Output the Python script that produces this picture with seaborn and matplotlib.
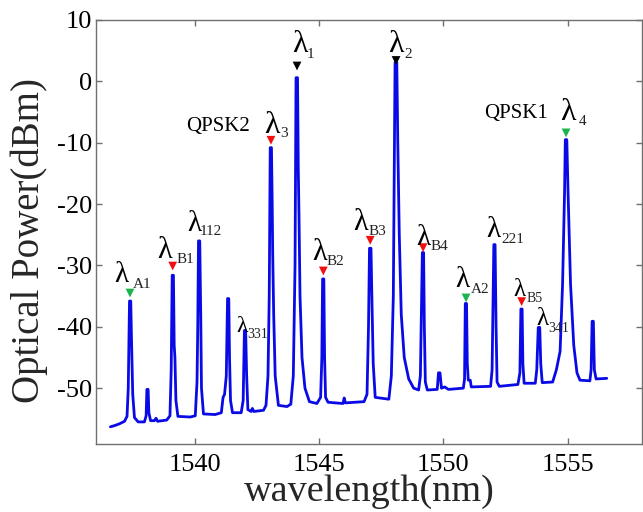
import matplotlib
matplotlib.use("Agg")
import matplotlib.pyplot as plt
import seaborn as sns
import pandas as pd

# Optical spectrum trace: wavelength (nm) and power (dBm)
wavelength = [
    1536.58, 1536.75, 1536.95, 1537.15, 1537.25, 1537.30, 1537.33, 1537.35, 1537.40, 1537.43,
    1537.48, 1537.55, 1537.70, 1537.95, 1538.02, 1538.05, 1538.10, 1538.13, 1538.20, 1538.35,
    1538.42, 1538.48, 1538.85, 1538.98, 1539.03, 1539.07, 1539.12, 1539.15, 1539.18, 1539.22,
    1539.30, 1539.80, 1540.00, 1540.07, 1540.10, 1540.13, 1540.18, 1540.22, 1540.25, 1540.33,
    1540.80, 1541.05, 1541.12, 1541.18, 1541.25, 1541.30, 1541.35, 1541.38, 1541.42, 1541.50,
    1541.85, 1541.93, 1541.98, 1542.03, 1542.07, 1542.12, 1542.25, 1542.30, 1542.36, 1542.75,
    1542.85, 1542.93, 1542.98, 1543.02, 1543.07, 1543.10, 1543.12, 1543.16, 1543.22, 1543.35,
    1543.70, 1543.85, 1543.95, 1544.02, 1544.06, 1544.12, 1544.15, 1544.18, 1544.22, 1544.30,
    1544.42, 1544.60, 1544.90, 1545.05, 1545.10, 1545.13, 1545.18, 1545.21, 1545.25, 1545.35,
    1545.95, 1546.00, 1546.05, 1546.80, 1546.92, 1546.98, 1547.02, 1547.08, 1547.12, 1547.17,
    1547.25, 1547.80, 1547.90, 1547.98, 1548.05, 1548.12, 1548.16, 1548.22, 1548.30, 1548.42,
    1548.60, 1548.80, 1549.00, 1549.07, 1549.12, 1549.15, 1549.20, 1549.23, 1549.27, 1549.35,
    1549.75, 1549.80, 1549.86, 1549.92, 1550.05, 1550.20, 1550.80, 1550.85, 1550.88, 1550.93,
    1550.96, 1551.00, 1551.08, 1551.12, 1551.90, 1551.96, 1552.00, 1552.03, 1552.08, 1552.12,
    1552.16, 1552.25, 1553.00, 1553.08, 1553.12, 1553.17, 1553.20, 1553.25, 1553.70, 1553.76,
    1553.82, 1553.88, 1553.92, 1553.98, 1554.40, 1554.55, 1554.70, 1554.80, 1554.88, 1554.91,
    1554.97, 1555.02, 1555.12, 1555.25, 1555.38, 1555.50, 1555.90, 1555.95, 1555.99, 1556.04,
    1556.08, 1556.15, 1556.58,
]
power = [
    -56.3, -56.1, -55.8, -55.4, -54.6, -50.0, -42.0, -35.8, -35.8, -42.0,
    -51.0, -54.8, -55.5, -55.5, -54.5, -50.2, -50.2, -54.0, -55.3, -55.3,
    -54.9, -55.4, -55.2, -54.5, -47.0, -31.6, -31.6, -43.0, -45.0, -52.0,
    -54.6, -54.7, -54.5, -49.0, -40.0, -26.0, -26.0, -38.0, -50.0, -54.2,
    -54.3, -54.0, -51.5, -51.0, -48.0, -35.4, -35.4, -45.0, -52.0, -54.0,
    -54.0, -52.0, -40.6, -40.6, -48.0, -53.5, -53.8, -53.3, -53.8, -53.6,
    -52.8, -48.0, -35.0, -10.8, -10.8, -20.0, -28.0, -38.0, -48.0, -52.8,
    -53.0, -52.6, -48.0, -30.0, 0.6, 0.6, -14.0, -22.0, -35.0, -45.0,
    -50.0, -52.2, -52.5, -51.5, -45.0, -32.2, -32.2, -45.0, -51.5, -52.3,
    -52.5, -51.6, -52.4, -52.2, -51.0, -40.0, -27.2, -27.2, -36.0, -46.0,
    -51.5, -51.8, -48.0, -35.0, 3.1, 3.1, -10.0, -25.0, -38.0, -45.0,
    -48.5, -50.0, -50.3, -48.0, -35.0, -27.9, -27.9, -40.0, -49.0, -50.3,
    -50.2, -47.5, -47.5, -50.0, -49.8, -50.2, -50.0, -48.5, -36.2, -36.2,
    -46.0, -48.7, -48.7, -49.8, -49.7, -47.0, -35.0, -26.6, -26.6, -40.0,
    -49.0, -49.7, -49.4, -47.5, -37.1, -37.1, -46.0, -49.2, -49.2, -47.0,
    -40.1, -40.1, -46.0, -49.1, -49.0, -47.0, -44.0, -33.0, -18.0, -9.5,
    -9.5, -18.0, -33.0, -43.0, -47.5, -48.7, -48.8, -47.0, -39.1, -39.1,
    -47.0, -48.5, -48.4,
]

# Channel markers above the peaks
marker_wl = [1537.37, 1539.09, 1543.05, 1544.10, 1545.16, 1547.05, 1548.09, 1549.18, 1550.91, 1553.15, 1554.94]
marker_db = [-34.5, -30.1, -9.6, 2.5, -30.9, -25.9, 3.4, -27.1, -35.3, -35.9, -8.4]
marker_kind = ["A", "B", "B", "P", "B", "B", "P", "B", "A", "B", "A"]

x_ticks = [1540, 1545, 1550, 1555]
y_ticks = [10, 0, -10, -20, -30, -40, -50]

sns.set_theme(style="ticks")
plt.rcParams["font.family"] = ["Liberation Serif", "DejaVu Serif"]
plt.rcParams["axes.unicode_minus"] = False

fig = plt.figure(figsize=(6.43, 5.12), dpi=100)
ax = fig.add_axes([96 / 643, 1 - 444 / 512, (642 - 96) / 643, (444 - 20) / 512])

spectrum = pd.DataFrame({"wavelength": wavelength, "power": power})
sns.lineplot(data=spectrum, x="wavelength", y="power", ax=ax, sort=False,
             estimator=None, color="#0a0ae6", linewidth=2.0)

markers = pd.DataFrame({"wl": marker_wl, "db": marker_db, "kind": marker_kind})
palette = {"A": "#1db34f", "B": "#f01010", "P": "#000000"}
sns.scatterplot(data=markers, x="wl", y="db", hue="kind", palette=palette,
                marker="v", s=40, linewidth=0, ax=ax, legend=False, zorder=5)

ax.set_xlim(1536, 1558)
ax.set_ylim(-59.1, 10)
ax.set_xticks(x_ticks)
ax.set_yticks(y_ticks)

for side in ["left", "right", "top", "bottom"]:
    ax.spines[side].set_visible(True)
    ax.spines[side].set_color("#707070")
    ax.spines[side].set_linewidth(1.0)
ax.tick_params(direction="in", top=True, right=True, length=4, width=1,
               color="#707070", labelsize=19, labelcolor="black")
ax.tick_params(axis="x", pad=7)
ax.tick_params(axis="y", pad=3)

ax.set_xlabel("wavelength(nm)", fontsize=27.5)
ax.set_ylabel("Optical Power(dBm)", fontsize=28)
ax.xaxis.set_label_coords(0.5, -0.072)
ax.yaxis.set_label_coords(-0.088, 0.481)

# Peak labels: (lambda x, lambda y, lambda size, subscript, sub x, sub y, sub size)
labels = [
    (1536.74, -32.7, 21, "A1", 1537.47, -33.7, 11),
    (1538.47, -28.8, 22, "B1", 1539.24, -29.6, 11),
    (1539.68, -24.4, 21, "112", 1540.16, -25.05, 11),
    (1541.65, -40.9, 17, "331", 1542.09, -41.85, 10),
    (1542.77, -8.42, 23, "3", 1543.42, -9.07, 11),
    (1543.90, 4.78, 23, "1", 1544.50, 3.81, 11),
    (1547.76, 4.78, 23, "2", 1548.44, 3.81, 11),
    (1544.70, -29.1, 22, "B2", 1545.27, -29.9, 11),
    (1546.35, -24.2, 22, "B3", 1547.00, -25.05, 11),
    (1548.89, -26.7, 21, "B4", 1549.49, -27.5, 11),
    (1551.74, -25.4, 21, "221", 1552.34, -26.4, 11),
    (1550.49, -33.5, 21, "A2", 1551.10, -34.5, 11),
    (1552.83, -35.0, 18, "B5", 1553.35, -36.0, 10),
    (1553.75, -39.7, 18, "341", 1554.23, -40.9, 10),
    (1554.72, -6.3, 23, "4", 1555.44, -7.12, 11),
]
for lx, ly, ls, sub, sx, sy, ss in labels:
    ax.text(lx, ly, "λ", fontsize=ls, ha="left", va="baseline", color="black", zorder=6)
    ax.text(sx, sy, sub, fontsize=ss, ha="left", va="baseline", color="#222222", zorder=6)

ax.text(1539.64, -8.1, "QPSK2", fontsize=15, ha="left", va="baseline", color="black")
ax.text(1551.62, -5.98, "QPSK1", fontsize=15, ha="left", va="baseline", color="black")

fig.savefig("out.png", dpi=100, facecolor="white")
